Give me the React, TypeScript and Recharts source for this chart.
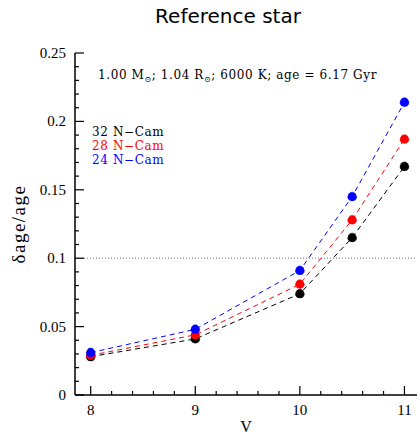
import {
  LineChart,
  Line,
  XAxis,
  YAxis,
  ReferenceLine,
} from 'recharts';

const vMags = [8, 9, 10, 10.5, 11];
const cam32 = [0.028, 0.041, 0.074, 0.115, 0.167];
const cam28 = [0.029, 0.044, 0.081, 0.128, 0.187];
const cam24 = [0.031, 0.048, 0.091, 0.145, 0.214];

const xMajor = [8, 9, 10, 11];
const xMinor = [8.2, 8.4, 8.6, 8.8, 9.2, 9.4, 9.6, 9.8, 10.2, 10.4, 10.6, 10.8];
const yMajor = [0, 0.05, 0.1, 0.15, 0.2, 0.25];
const yMinor = [0.01, 0.02, 0.03, 0.04, 0.06, 0.07, 0.08, 0.09, 0.11, 0.12, 0.13, 0.14, 0.16, 0.17, 0.18, 0.19, 0.21, 0.22, 0.23, 0.24];

const seriesList = [
  { name: '32 N-Cam', key: 'c32', values: cam32, color: '#000000' },
  { name: '28 N-Cam', key: 'c28', values: cam28, color: '#ff0000' },
  { name: '24 N-Cam', key: 'c24', values: cam24, color: '#0000ff' },
];

const data = vMags.map((v, i) => ({
  v,
  c32: cam32[i],
  c28: cam28[i],
  c24: cam24[i],
}));

const X_DOMAIN: [number, number] = [7.85, 11.12];
const labelFont = '"Liberation Serif", serif';
const textFont = '"DejaVu Serif", serif';

const isMajor = (val: number, list: number[]) => list.some((m) => Math.abs(m - val) < 1e-6);

const renderBottomTick = (props: any) => {
  const { x, y, payload } = props;
  const major = isMajor(payload.value, xMajor);
  const len = major ? 9 : 4;
  return (
    <g key={`bt-${payload.value}`}>
      <path d={`M${x},${y}V${y - len}`} stroke="#000" strokeWidth={1.2} fill="none" />
      {major && (
        <text x={x} y={y + 20} textAnchor="middle" fontSize={15} fontFamily={labelFont} fill="#000">
          {payload.value}
        </text>
      )}
    </g>
  );
};

const renderTopTick = (props: any) => {
  const { x, y, payload } = props;
  const len = isMajor(payload.value, xMajor) ? 9 : 4;
  return (
    <path key={`tt-${payload.value}`} d={`M${x},${y}V${y + len}`} stroke="#000" strokeWidth={1.2} fill="none" />
  );
};

const renderLeftTick = (props: any) => {
  const { x, y, payload } = props;
  const major = isMajor(payload.value, yMajor);
  const len = major ? 9 : 4;
  return (
    <g key={`lt-${payload.value}`}>
      <path d={`M${x},${y}H${x + len}`} stroke="#000" strokeWidth={1.2} fill="none" />
      {major && (
        <text x={x - 9} y={y + 5} textAnchor="end" fontSize={15} fontFamily={labelFont} fill="#000">
          {payload.value}
        </text>
      )}
    </g>
  );
};

const renderRightTick = (props: any) => {
  const { x, y, payload } = props;
  const len = isMajor(payload.value, yMajor) ? 9 : 4;
  return (
    <path key={`rt-${payload.value}`} d={`M${x},${y}H${x - len}`} stroke="#000" strokeWidth={1.2} fill="none" />
  );
};

const Sun = () => (
  <sub style={{ fontSize: 8, verticalAlign: 'baseline', position: 'relative', top: 3 }}>⊙</sub>
);

const xTicks = [...xMajor, ...xMinor];
const yTicks = [...yMajor, ...yMinor];

export default function App() {
  return (
    <div style={{ position: 'absolute', left: 0, top: 0, width: 420, height: 436, background: '#fff' }}>
      <LineChart
        width={420}
        height={436}
        data={data}
        margin={{ top: 53, right: 3, bottom: 11, left: 15 }}
      >
        <XAxis
          xAxisId="bottom"
          dataKey="v"
          type="number"
          domain={X_DOMAIN}
          ticks={xTicks}
          allowDataOverflow
          tick={renderBottomTick}
          tickLine={false}
          tickSize={0}
          tickMargin={0}
          height={30}
          axisLine={{ stroke: '#000', strokeWidth: 1.5 }}
          interval={0}
        />
        <XAxis
          xAxisId="top"
          orientation="top"
          dataKey="v"
          type="number"
          domain={X_DOMAIN}
          ticks={xTicks}
          allowDataOverflow
          tick={renderTopTick}
          tickLine={false}
          tickSize={0}
          tickMargin={0}
          height={0}
          axisLine={{ stroke: '#000', strokeWidth: 1.5 }}
          interval={0}
        />
        <YAxis
          yAxisId="left"
          type="number"
          domain={[0, 0.25]}
          ticks={yTicks}
          tick={renderLeftTick}
          tickLine={false}
          tickSize={0}
          tickMargin={0}
          width={60}
          axisLine={{ stroke: '#000', strokeWidth: 1.5 }}
          interval={0}
        />
        <YAxis
          yAxisId="right"
          orientation="right"
          type="number"
          domain={[0, 0.25]}
          ticks={yTicks}
          tick={renderRightTick}
          tickLine={false}
          tickSize={0}
          tickMargin={0}
          width={0}
          axisLine={{ stroke: '#000', strokeWidth: 1.5 }}
          interval={0}
        />
        <ReferenceLine
          xAxisId="bottom"
          yAxisId="left"
          y={0.1}
          stroke="#777"
          strokeDasharray="1 2"
          strokeWidth={1}
        />
        {seriesList.map((s) => (
          <Line
            key={s.key}
            xAxisId="bottom"
            yAxisId="left"
            dataKey={s.key}
            name={s.name}
            stroke={s.color}
            strokeWidth={1}
            strokeDasharray="5 4"
            dot={{ r: 4.5, fill: s.color, stroke: s.color, strokeWidth: 0.5 }}
            isAnimationActive={false}
          />
        ))}
      </LineChart>

      <div
        style={{
          position: 'absolute',
          left: 0,
          top: 4,
          width: 456,
          textAlign: 'center',
          fontFamily: '"DejaVu Sans", sans-serif',
          fontSize: 20,
          color: '#000',
        }}
      >
        Reference star
      </div>

      <div
        style={{
          position: 'absolute',
          left: 98,
          top: 68,
          fontFamily: textFont,
          fontSize: 12,
          letterSpacing: 0.6,
          color: '#000',
          whiteSpace: 'nowrap',
        }}
      >
        1.00 M<Sun />; 1.04 R<Sun />; 6000 K; age = 6.17 Gyr
      </div>

      <div style={{ position: 'absolute', left: 92, top: 125, fontFamily: textFont, fontSize: 12, letterSpacing: 0.6, lineHeight: '14px' }}>
        {seriesList.map((s) => (
          <div key={s.key} style={{ color: s.color, whiteSpace: 'nowrap' }}>
            {s.name.replace('-', '\u2212')}
          </div>
        ))}
      </div>

      <div
        style={{
          position: 'absolute',
          left: 19,
          top: 224,
          transform: 'translate(-50%, -50%) rotate(-90deg)',
          fontFamily: labelFont,
          fontSize: 19,
          letterSpacing: 1.5,
          whiteSpace: 'nowrap',
          color: '#000',
        }}
      >
        δage/age
      </div>

      <div
        style={{
          position: 'absolute',
          left: 246,
          top: 418,
          transform: 'translateX(-50%)',
          fontFamily: labelFont,
          fontSize: 16,
          color: '#000',
        }}
      >
        V
      </div>
    </div>
  );
}
